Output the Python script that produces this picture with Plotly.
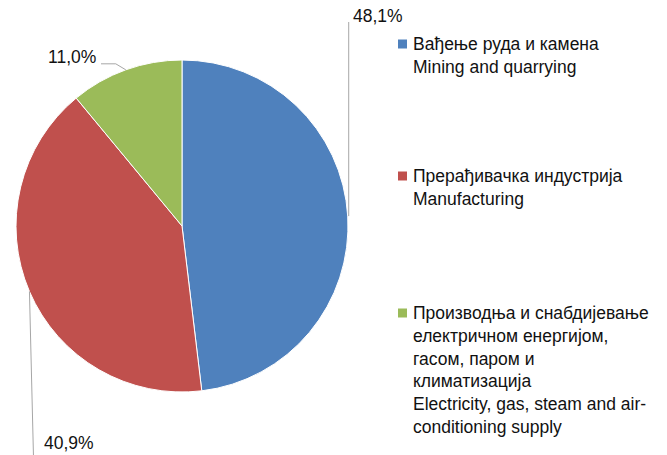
import math
import plotly.graph_objects as go

# ---- data ----
labels_sr = [
    "Вађење руда и камена",
    "Прерађивачка индустрија",
    "Производња и снабдијевање<br>електричном енергијом,<br>гасом, паром и<br>климатизација",
]
labels_en = [
    "Mining and quarrying",
    "Manufacturing",
    "Electricity, gas, steam and air-<br>conditioning supply",
]
shares = [48.1, 40.9, 11.0]
pct_text = ["48,1%", "40,9%", "11,0%"]
colors = ["#4F81BD", "#C0504D", "#9BBB59"]

W, H = 667, 455
FONT = "Liberation Sans Narrow, Arial Narrow, Liberation Sans, Arial, sans-serif"
FS = 17.5
TXT = "#111111"

# pie geometry (pixels)
CX, CY, R = 182, 226, 166


def px(x):
    return x / W


def py(y):
    return 1 - y / H


fig = go.Figure()
fig.add_trace(go.Pie(
    values=shares,
    labels=[s.replace("<br>", " ") for s in labels_sr],
    marker=dict(colors=colors, line=dict(color="white", width=1)),
    sort=False,
    direction="clockwise",
    rotation=0,
    textinfo="none",
    showlegend=False,
    domain=dict(x=[px(CX - R), px(CX + R)], y=[py(CY + R), py(CY - R)]),
))

# slice mid-points on the rim, derived from the data
total = sum(shares)
mids = []
acc = 0.0
for v in shares:
    ang = (acc + v / 2) / total * 2 * math.pi
    mids.append((CX + R * math.sin(ang), CY - R * math.cos(ang)))
    acc += v

shapes = []
annotations = []
LC = "#A6A6A6"
# label 0 (blue): vertical leader up
x0, y0 = mids[0]
shapes.append(dict(type="line", xref="paper", yref="paper",
                   x0=px(x0 + 1), y0=py(y0), x1=px(x0 + 1), y1=py(22),
                   line=dict(color=LC, width=1)))
annotations.append(dict(x=px(x0 + 3), y=py(16), xref="paper", yref="paper",
                        text=pct_text[0], showarrow=False, xanchor="left", yanchor="middle",
                        font=dict(size=FS, color=TXT, family=FONT)))
# label 1 (red): leader down
x1_, y1_ = mids[1]
shapes.append(dict(type="line", xref="paper", yref="paper",
                   x0=px(x1_), y0=py(y1_), x1=px(x1_ + 4), y1=py(455),
                   line=dict(color=LC, width=1)))
annotations.append(dict(x=px(x1_ + 13), y=py(443), xref="paper", yref="paper",
                        text=pct_text[1], showarrow=False, xanchor="left", yanchor="middle",
                        font=dict(size=FS, color=TXT, family=FONT)))
# label 2 (green): elbow leader to the left
x2_, y2_ = mids[2]
shapes.append(dict(type="path", xref="paper", yref="paper",
                   path=f"M {px(x2_)},{py(y2_)} L {px(x2_-10)},{py(y2_-6)} L {px(101)},{py(y2_-6)}",
                   line=dict(color=LC, width=1)))
annotations.append(dict(x=px(98), y=py(57), xref="paper", yref="paper",
                        text=pct_text[2], showarrow=False, xanchor="right", yanchor="middle",
                        font=dict(size=FS, color=TXT, family=FONT)))

# custom legend
legend_tops = [44, 176, 313]
for i in range(3):
    yc = legend_tops[i]
    shapes.append(dict(type="rect", xref="paper", yref="paper",
                       x0=px(398), x1=px(407), y0=py(yc - 4.5), y1=py(yc + 4.5),
                       fillcolor=colors[i], line=dict(width=0)))
    annotations.append(dict(x=px(411), y=py(yc - 12), xref="paper", yref="paper",
                            text=labels_sr[i] + "<br>" + labels_en[i],
                            showarrow=False, xanchor="left", yanchor="top", align="left",
                            font=dict(size=FS, color=TXT, family=FONT)))

fig.update_layout(
    width=W, height=H,
    margin=dict(l=0, r=0, t=0, b=0),
    paper_bgcolor="white", plot_bgcolor="white",
    shapes=shapes, annotations=annotations,
    showlegend=False,
)
fig.write_html("out.html", config={"displayModeBar": False},
               post_script="document.body.style.margin='0';")
